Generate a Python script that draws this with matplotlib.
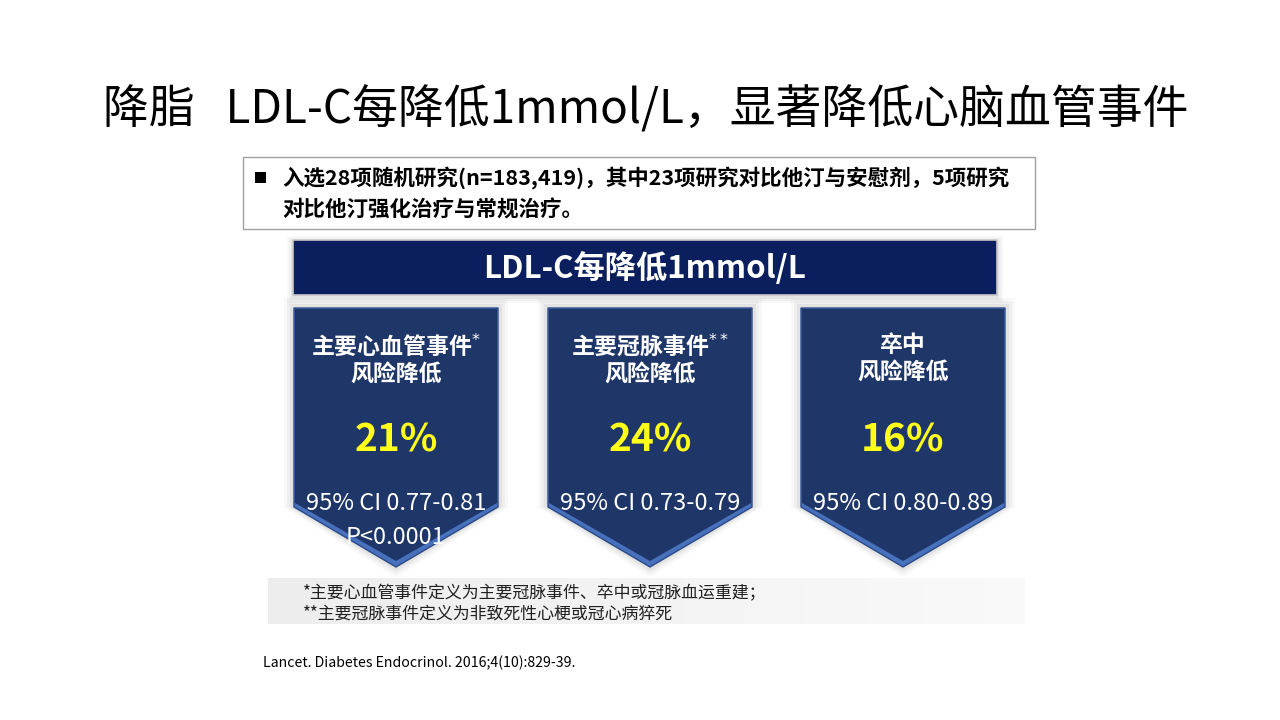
import matplotlib
matplotlib.use("Agg")
import matplotlib.pyplot as plt
from matplotlib.patches import Polygon, Rectangle
import numpy as np

plt.rcParams['font.family'] = ['Noto Sans CJK SC', 'DejaVu Sans']

# ---- data ----
title = "降脂   LDL-C每降低1mmol/L，显著降低心脑血管事件"
intro_lines = ["入选28项随机研究(n=183,419)，其中23项研究对比他汀与安慰剂，5项研究",
               "对比他汀强化治疗与常规治疗。"]
banner = "LDL-C每降低1mmol/L"
categories = ["主要心血管事件$^{*}$\n风险降低", "主要冠脉事件$^{**}$\n风险降低", "卒中\n风险降低"]
reductions = [21, 24, 16]
ci_labels = ["95% CI 0.77-0.81", "95% CI 0.73-0.79", "95% CI 0.80-0.89"]
p_labels = ["P<0.0001", "", ""]
footnotes = ["*主要心血管事件定义为主要冠脉事件、卒中或冠脉血运重建；",
             "**主要冠脉事件定义为非致死性心梗或冠心病猝死"]
citation = "Lancet. Diabetes Endocrinol. 2016;4(10):829-39."

fig = plt.figure(figsize=(12.8, 7.2), dpi=100)
ax = fig.add_axes([0, 0, 1, 1])
ax.set_xlim(0, 1280)
ax.set_ylim(720, 0)
ax.axis('off')
fig.patch.set_facecolor('white')

# title
ax.text(646, 110, title, ha='center', va='center', fontsize=33, color='black')

# intro box
ax.add_patch(Rectangle((243, 157), 792, 72, facecolor='white', edgecolor='#a0a0a0', lw=1))
ax.add_patch(Rectangle((255, 172), 11, 11, facecolor='black', edgecolor='none'))
ax.text(282, 178, intro_lines[0], ha='left', va='center', fontsize=15.5, fontweight='bold', color='black')
ax.text(282, 210, intro_lines[1], ha='left', va='center', fontsize=15.5, fontweight='bold', color='black')

# banner with shadow
for i, a in enumerate([0.05, 0.07, 0.09]):
    d = 6 - 2 * i
    ax.add_patch(Rectangle((293 - d, 240 - d + 2), 704 + 2 * d, 55 + 2 * d, facecolor='#808080',
                           edgecolor='none', alpha=a))
ax.add_patch(Rectangle((293, 240), 704, 55, facecolor='#0b1f5e', edgecolor='#c8c8c8', lw=1.2))
ax.text(645, 268, banner, ha='center', va='center', fontsize=22.5, color='white', fontweight='bold')

# footnote background (soft gradient)
grad = np.linspace(0, 1, 200)[None, :]
ax.imshow(np.dstack([np.full((1, 200, 3), 0.93), (1 - grad * 0.7)[..., None]]),
          extent=(268, 1025, 624, 578), aspect='auto', zorder=0)

# pentagons
centers = [396, 650, 903]
half_w = 102
top, shoulder, tip = 308, 507, 567
for cx, cat, val, ci, p in zip(centers, categories, reductions, ci_labels, p_labels):
    pts = np.array([[cx - half_w, top], [cx + half_w, top], [cx + half_w, shoulder],
                    [cx, tip], [cx - half_w, shoulder]])
    # soft shadow
    for k, a in zip([10, 7, 4], [0.05, 0.07, 0.1]):
        sp = pts.copy()
        sp[:, 0] = cx + (sp[:, 0] - cx) * (half_w + k) / half_w
        sp[:, 1] = sp[:, 1] + np.array([-k, -k, 0, k, 0])
        ax.add_patch(Polygon(sp, closed=True, facecolor='#7a7a7a', edgecolor='none', alpha=a))
    # lighter rim on lower edges
    ax.add_patch(Polygon(pts, closed=True, facecolor='#4770bd', edgecolor='none'))
    inner = pts.copy()
    inner[:, 0] = cx + (inner[:, 0] - cx) * (half_w - 1) / half_w
    inner[:, 1] = inner[:, 1] + np.array([1, 1, -4, -6, -4])
    ax.add_patch(Polygon(inner, closed=True, facecolor='#1f3768', edgecolor='none'))
    ax.add_patch(Polygon(pts, closed=True, facecolor='none', edgecolor='#2c4a86', lw=1))

    ax.text(cx, 359, cat, ha='center', va='center', fontsize=16.5, fontweight='bold',
            color='white', linespacing=1.2)
    ax.text(cx, 440, f"{val}%", ha='center', va='center', fontsize=28, fontweight='bold',
            color='#ffff1a')
    ax.text(cx, 503, ci, ha='center', va='center', fontsize=17, color='white')
    if p:
        ax.text(cx, 537, p, ha='center', va='center', fontsize=17, color='white')

# footnotes
ax.text(303, 593, footnotes[0], ha='left', va='center', fontsize=12.2, color='#202020')
ax.text(303, 613, footnotes[1], ha='left', va='center', fontsize=12.2, color='#202020')

# citation
ax.text(263, 663, citation, ha='left', va='center', fontsize=10.2, color='black', fontweight='medium')

fig.savefig("out.png", dpi=100, facecolor='white')
